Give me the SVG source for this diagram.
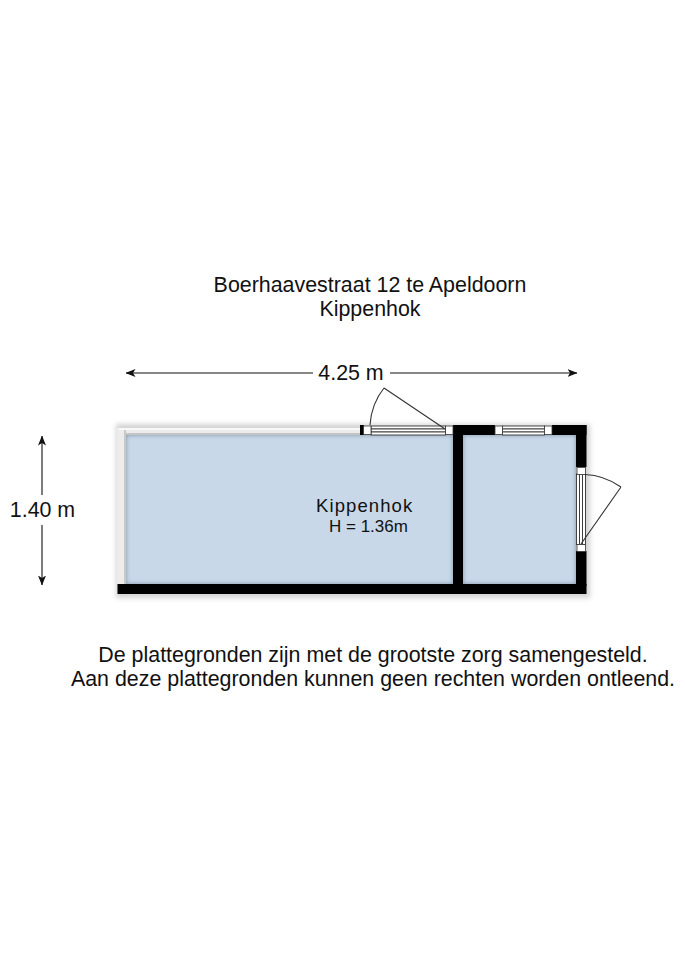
<svg xmlns="http://www.w3.org/2000/svg" width="685" height="968" viewBox="0 0 685 968">
<style>
text{font-family:"Liberation Sans",Arial,sans-serif;fill:#111}
.t{font-size:21.400px;text-anchor:middle}
.dim{stroke:#111;stroke-width:1.1;fill:none}
.wall{fill:#000}
.room{fill:#c8d8e9}
.inset{fill:none;stroke:#4f6072;stroke-width:4;filter:url(#b2);opacity:.6}
.sq{fill:#fff;stroke:#333;stroke-width:.8}
.gl{fill:#fff;stroke:#333;stroke-width:.9}
.door{fill:none;stroke:#333;stroke-width:1.1}
</style>
<defs>
<filter id="b2" x="-10%" y="-10%" width="120%" height="120%"><feGaussianBlur stdDeviation="2"/></filter>
<filter id="b3" x="-10%" y="-20%" width="120%" height="140%"><feGaussianBlur stdDeviation="2.5"/></filter>
<clipPath id="c1"><rect x="126" y="435" width="327" height="149"/></clipPath>
<clipPath id="c2"><rect x="463" y="435" width="113" height="149"/></clipPath>
<marker id="a" viewBox="0 0 10 8" refX="9.5" refY="4" markerWidth="10" markerHeight="8" orient="auto-start-reverse" markerUnits="userSpaceOnUse"><path d="M0 0 10 4 0 8 2.500 4z" fill="#111"/></marker>
</defs>
<rect width="685" height="968" fill="#fff"/>
<g id="shadow" filter="url(#b3)" fill="#a8a8a8" opacity=".5">
<path d="M116 424H590V598H116z"/>
</g>
<g id="room-kippenhok">
<rect class="room" x="126" y="435" width="327" height="149"/>
<g clip-path="url(#c1)"><rect class="inset" x="124" y="433" width="331" height="153"/></g>
</g>
<g id="room-side">
<rect class="room" x="463" y="435" width="113" height="149"/>
<g clip-path="url(#c2)"><rect class="inset" x="461" y="433" width="117" height="153"/></g>
</g>
<g id="walls">
<rect x="117" y="428" width="9" height="156" fill="#ececec"/>
<rect x="126" y="428" width="234" height="7" fill="#ececec"/>
<rect x="119" y="428" width="241" height="2" fill="#f8f8f8"/>
<rect x="126" y="433" width="234" height="2" fill="#c4c4c4"/>
<rect x="124" y="430" width="2" height="154" fill="#c9c9c9"/>
<rect class="wall" x="117.500" y="584" width="469" height="10"/>
<rect class="wall" x="453" y="425" width="10" height="160"/>
<rect class="wall" x="453" y="425" width="42" height="10"/>
<rect class="wall" x="552" y="425" width="34.500" height="10"/>
<rect class="wall" x="576" y="425" width="10.500" height="42"/>
<rect class="wall" x="576" y="551" width="10.500" height="35"/>
<rect class="wall" x="360" y="425" width="4" height="10"/>
</g>
<g id="window-door-top">
<rect class="gl" x="371" y="426" width="74.500" height="3"/>
<rect class="gl" x="371" y="429" width="74.500" height="3"/>
<rect class="gl" x="371" y="432" width="74.500" height="3"/>
<rect class="sq" x="363.500" y="426" width="7.500" height="8.500"/>
<rect class="sq" x="445.500" y="426" width="7.500" height="8.500"/>
<path class="door" d="M445 429 384 388M370 425C371 410 376 398 384 388"/>
</g>
<g id="window-top">
<rect class="gl" x="502.500" y="426" width="42" height="3"/>
<rect class="gl" x="502.500" y="429" width="42" height="3"/>
<rect class="gl" x="502.500" y="432" width="42" height="3"/>
<rect class="sq" x="495" y="426" width="7.500" height="8.500"/>
<rect class="sq" x="544.500" y="426" width="7.500" height="8.500"/>
</g>
<g id="door-right">
<rect class="gl" x="576.500" y="474" width="3" height="70.500"/>
<rect class="gl" x="579.500" y="474" width="3" height="70.500"/>
<rect class="gl" x="582.500" y="474" width="3" height="70.500"/>
<rect class="sq" x="577" y="467.500" width="8.500" height="7"/>
<rect class="sq" x="577" y="544.500" width="8.500" height="7"/>
<path class="door" d="M581 544 621 487M585 474.500C599 475 611 480 621 487"/>
</g>
<g id="connectors">
<path class="dim" marker-start="url(#a)" d="M126 373H313"/>
<path class="dim" marker-end="url(#a)" d="M390 373H577"/>
<path class="dim" marker-start="url(#a)" d="M42 436V495"/>
<path class="dim" marker-end="url(#a)" d="M42 525V585"/>
</g>
<g id="labels">
<text class="t" x="370" y="292">Boerhaavestraat 12 te Apeldoorn</text>
<text class="t" x="370" y="316">Kippenhok</text>
<text class="t" x="351" y="380">4.25 m</text>
<text class="t" x="42.500" y="517">1.40 m</text>
<text x="316" y="512" style="font-size:18.500px;letter-spacing:1.100px">Kippenhok</text>
<text x="329" y="532" style="font-size:17px">H = 1.36m</text>
<text class="t" x="373" y="662">De plattegronden zijn met de grootste zorg samengesteld.</text>
<text class="t" x="373" y="686">Aan deze plattegronden kunnen geen rechten worden ontleend.</text>
</g>
</svg>
